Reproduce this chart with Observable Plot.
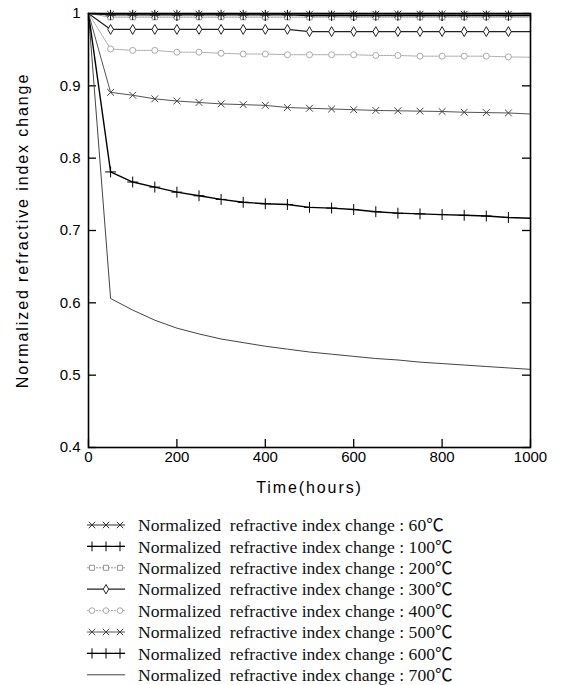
<!DOCTYPE html>
<html>
<head>
<meta charset="utf-8">
<script src="https://cdn.jsdelivr.net/npm/d3@7"></script>
<script src="https://cdn.jsdelivr.net/npm/@observablehq/plot@0.6"></script>
<style>
  html, body { margin: 0; padding: 0; background: #fff; }
  #chart svg { display: block; }
  #legend { display: block; }
</style>
</head>
<body>
<div id="chart"></div>
<svg id="legend" width="562" height="178"></svg>
<script>
// ---- data ----
const hours = [0, 50, 100, 150, 200, 250, 300, 350, 400, 450, 500, 550, 600, 650, 700, 750, 800, 850, 900, 950, 1000];
const temps = ["60℃", "100℃", "200℃", "300℃", "400℃", "500℃", "600℃", "700℃"];
const s60  = [1, 0.999, 0.999, 0.999, 0.999, 0.999, 0.999, 0.999, 0.999, 0.999, 0.999, 0.999, 0.999, 0.999, 0.999, 0.999, 0.999, 0.999, 0.999, 0.999, 0.999];
const s100 = [1, 0.998, 0.998, 0.998, 0.998, 0.998, 0.998, 0.998, 0.998, 0.998, 0.997, 0.997, 0.997, 0.997, 0.997, 0.997, 0.997, 0.997, 0.997, 0.997, 0.997];
const s200 = [1, 0.995, 0.995, 0.995, 0.995, 0.995, 0.995, 0.995, 0.995, 0.995, 0.995, 0.995, 0.995, 0.995, 0.995, 0.995, 0.995, 0.995, 0.995, 0.995, 0.995];
const s300 = [1, 0.978, 0.978, 0.978, 0.978, 0.978, 0.978, 0.978, 0.978, 0.978, 0.975, 0.975, 0.975, 0.975, 0.975, 0.975, 0.975, 0.975, 0.975, 0.975, 0.975];
const s400 = [1, 0.951, 0.949, 0.949, 0.9465, 0.9465, 0.945, 0.944, 0.944, 0.943, 0.943, 0.943, 0.943, 0.942, 0.942, 0.941, 0.941, 0.941, 0.941, 0.940, 0.9395];
const s500 = [1, 0.891, 0.887, 0.882, 0.879, 0.877, 0.875, 0.874, 0.873, 0.870, 0.869, 0.868, 0.867, 0.866, 0.8655, 0.865, 0.8645, 0.8635, 0.863, 0.8625, 0.861];
const s600 = [1, 0.781, 0.767, 0.760, 0.753, 0.748, 0.743, 0.739, 0.737, 0.736, 0.732, 0.731, 0.729, 0.726, 0.724, 0.723, 0.722, 0.721, 0.720, 0.718, 0.717];
const s700 = [1, 0.606, 0.590, 0.576, 0.565, 0.557, 0.550, 0.545, 0.540, 0.536, 0.532, 0.529, 0.526, 0.523, 0.521, 0.518, 0.516, 0.514, 0.512, 0.510, 0.508];
const xTicks = [0, 200, 400, 600, 800, 1000];
const yTicks = [0.4, 0.5, 0.6, 0.7, 0.8, 0.9, 1];
const xLabel = "Time(hours)";
const yLabel = "Normalized refractive index change";
const legendPrefix = "Normalized\u00a0\u00a0refractive index change : ";

// ---- styles ----
const seriesValues = [s60, s100, s200, s300, s400, s500, s600, s700];
const styles = [
  {stroke: "#333", width: 1,   dash: null,  symbol: "times",   r: 3.2, mstroke: "#333"},
  {stroke: "#000", width: 1.2, dash: null,  symbol: "plus",    r: 3.4, mstroke: "#000"},
  {stroke: "#999", width: 1,   dash: "2,1", symbol: "square",  r: 3.0, mstroke: "#999"},
  {stroke: "#222", width: 1.3, dash: null,  symbol: "diamond", r: 3.0, mstroke: "#222"},
  {stroke: "#aaa", width: 1,   dash: "2,1", symbol: "circle",  r: 3.0, mstroke: "#aaa"},
  {stroke: "#555", width: 1,   dash: null,  symbol: "times",   r: 3.2, mstroke: "#444"},
  {stroke: "#000", width: 1.4, dash: null,  symbol: "plus",    r: 3.6, mstroke: "#000"},
  {stroke: "#444", width: 1,   dash: null,  symbol: null,      r: 0,   mstroke: "#444"}
];
const hollow = s => s === "diamond" || s === "circle" || s === "square";

const W = 562, H = 507, mT = 13, mB = 60, mL = 88, mR = 32;
const innerH = H - mT - mB, innerW = W - mL - mR;
const tickLen = 8;

const marks = [];
for (let i = seriesValues.length - 1; i >= 0; i--) {
  const st = styles[i];
  const rows = hours.map((t, j) => ({t, v: seriesValues[i][j]}));
  marks.push(Plot.line(rows, {x: "t", y: "v", stroke: st.stroke, strokeWidth: st.width, strokeDasharray: st.dash}));
  if (st.symbol) {
    const pts = rows.filter(d => d.t > 0 && d.t < 1000);
    marks.push(Plot.dot(pts, {x: "t", y: "v", symbol: () => st.symbol, r: st.r, stroke: st.mstroke,
      fill: hollow(st.symbol) ? "white" : "none", strokeWidth: 1}));
  }
}

const chart = Plot.plot({
  width: W, height: H,
  marginTop: mT, marginBottom: mB, marginLeft: mL, marginRight: mR,
  style: {fontFamily: "'Liberation Sans', Arial, sans-serif", fontSize: "15px", color: "#000", background: "#fff"},
  x: {domain: [0, 1000]},
  y: {domain: [0.4, 1]},
  symbol: {type: "identity"},
  marks: [
    Plot.axisX({ticks: xTicks, tickSize: 0, tickPadding: 4, label: null, fontSize: 15, tickFormat: d => String(d)}),
    Plot.axisY({ticks: yTicks, tickSize: 0, tickPadding: 8, label: null, fontSize: 15,
      tickFormat: d => d === 1 ? "1" : d.toFixed(1)}),
    Plot.tickX(xTicks, {x: d => d, insetTop: innerH - tickLen, stroke: "#000", strokeWidth: 1.3}),
    Plot.tickX(xTicks, {x: d => d, insetBottom: innerH - tickLen, stroke: "#000", strokeWidth: 1.3}),
    Plot.tickY(yTicks, {y: d => d, insetRight: innerW - tickLen, stroke: "#000", strokeWidth: 1.3}),
    Plot.tickY(yTicks, {y: d => d, insetLeft: innerW - tickLen, stroke: "#000", strokeWidth: 1.3}),
    ...marks,
    Plot.frame({stroke: "#000", strokeWidth: 1.6}),
    Plot.text([xLabel], {frameAnchor: "bottom", textAnchor: "middle", dy: 45, text: d => d, fontSize: 16, fill: "#000"}),
    Plot.text([yLabel], {frameAnchor: "left", textAnchor: "middle", dx: -66, rotate: -90, text: d => d, fontSize: 16, fill: "#000"})
  ]
});
document.getElementById("chart").appendChild(chart);
d3.select(chart).selectAll("text").filter(function() { return this.textContent === xLabel || this.textContent === yLabel; })
  .style("letter-spacing", "1.9px");

// ---- legend ----
const lg = d3.select("#legend");
const symMap = {times: d3.symbolTimes, plus: d3.symbolPlus, square: d3.symbolSquare, diamond: d3.symbolDiamond, circle: d3.symbolCircle};
temps.forEach((name, i) => {
  const st = styles[i];
  const cy = 18 + i * 21.4;
  const g = lg.append("g");
  g.append("line").attr("x1", 87).attr("x2", 125).attr("y1", cy).attr("y2", cy)
    .attr("stroke", st.stroke).attr("stroke-width", st.width).attr("stroke-dasharray", st.dash);
  if (st.symbol) {
    const xs = (st.symbol === "diamond") ? [106] : [92, 106, 120];
    xs.forEach(x => {
      g.append("path").attr("transform", `translate(${x},${cy})`)
        .attr("d", d3.symbol(symMap[st.symbol], Math.PI * st.r * st.r * 0.9)())
        .attr("fill", hollow(st.symbol) ? "white" : "none")
        .attr("stroke", st.mstroke).attr("stroke-width", 1);
    });
  }
  g.append("text").attr("x", 138).attr("y", cy).attr("dy", "0.35em")
    .attr("font-family", "'Liberation Serif', 'Times New Roman', 'Noto Sans CJK JP', serif")
    .attr("font-size", 17.6).attr("fill", "#111")
    .text(legendPrefix + name);
});
</script>
</body>
</html>
